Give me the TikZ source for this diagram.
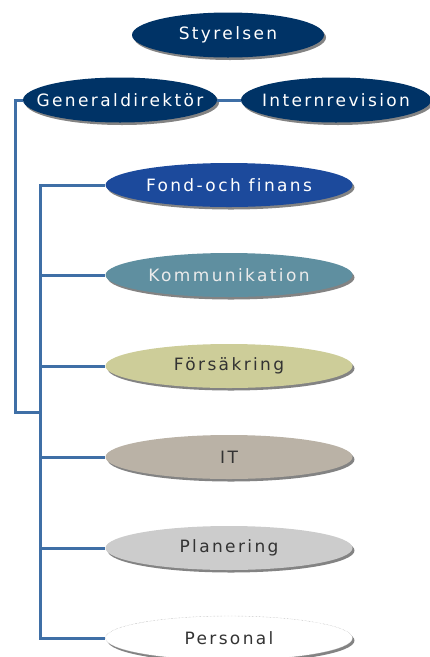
\documentclass[tikz,border=0pt]{standalone}
\usepackage{fontspec}
\setmainfont{DejaVu Sans}[LetterSpace=14,Ligatures=NoCommon]
\usetikzlibrary{shapes.geometric,shadows}
\definecolor{navy}{HTML}{003366}
\definecolor{fondblue}{HTML}{1C4A9C}
\definecolor{kommc}{HTML}{5F8FA0}
\definecolor{forsc}{HTML}{CDCD99}
\definecolor{itc}{HTML}{BAB2A6}
\definecolor{planc}{HTML}{CCCCCC}
\definecolor{linec}{HTML}{3F6FA6}
\definecolor{darktext}{HTML}{333333}
\newcommand{\ovtext}[1]{\makebox[0pt]{#1}}
\tikzset{
  oval/.style={ellipse, inner sep=0pt, font=\fontsize{17}{19}\selectfont,
    drop shadow={shadow xshift=2pt, shadow yshift=-2.5pt, opacity=0.65, fill=black!75}},
  topoval/.style={oval, fill=navy, text=white, minimum width=192pt, minimum height=45pt},
  deptoval/.style={oval, minimum width=247pt, minimum height=44pt},
  conn/.style={draw=linec, line width=3pt}
}
\begin{document}
\begin{tikzpicture}[x=1pt,y=-1pt]
\useasboundingbox (0,0) rectangle (430,657);
\node[topoval] (sty) at (228,35) {\ovtext{Styrelsen}};
\node[topoval, minimum width=194pt] (gd) at (120,100) {\ovtext{Generaldirektör}};
\node[topoval, minimum width=190pt] (ir) at (336,100) {\ovtext{Internrevision}};
\node[deptoval, fill=fondblue, text=white] (fond) at (229,185) {\ovtext{Fond-och finans}};
\node[deptoval, fill=kommc, text=white!92!black] (komm) at (229,275) {\ovtext{Kommunikation}};
\node[deptoval, fill=forsc, text=darktext] (fors) at (229,366) {\ovtext{Försäkring}};
\node[deptoval, fill=itc, text=darktext] (it) at (229,457) {\ovtext{IT}};
\node[deptoval, fill=planc, text=darktext] (plan) at (229,548) {\ovtext{Planering}};
\node[deptoval, fill=white, draw=black!35, densely dotted, thin, text=darktext] (pers) at (229,638) {\ovtext{Personal}};
\coordinate (gx) at (15,0);
\coordinate (tt) at (40,0);
\coordinate (j) at (40,412);
\draw[conn] (gd.east) -- (ir.west);
\draw[conn] (gd.west) -- (gd.west -| gx) |- (j);
\draw[conn] (fond.west) -- (fond.west -| tt) -- (pers.west -| tt) -- (pers.west);
\foreach \n in {komm,fors,it,plan} \draw[conn] (\n.west) -- (\n.west -| tt);
\end{tikzpicture}
\end{document}
